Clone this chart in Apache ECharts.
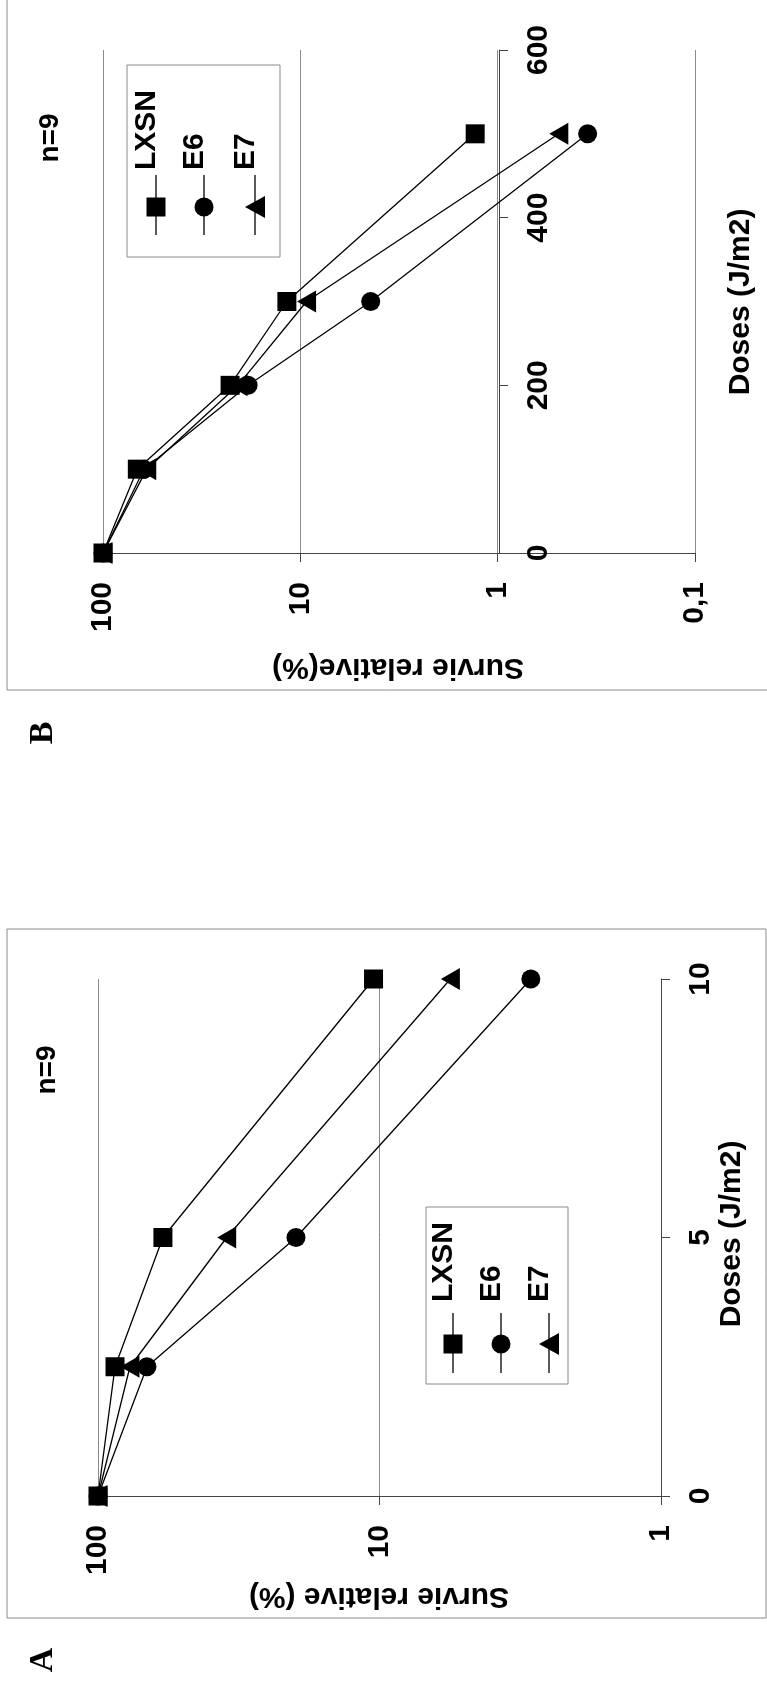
<!DOCTYPE html>
<html><head><meta charset="utf-8">
<script src="https://cdn.jsdelivr.net/npm/echarts@6/dist/echarts.min.js"></script>
<style>html,body{margin:0;padding:0;background:#fff}#c{width:767px;height:1686px}</style>
</head><body><div id="c"></div>
<script>
// ---------- data ----------
const seriesNames = ['LXSN', 'E6', 'E7'];
// Chart B (doses 0..600 J/m2)
const dosesB = [0, 100, 200, 300, 500];
const lxsnB = [100, 67, 22.7, 11.7, 1.3];
const e6B   = [100, 62, 18.4, 4.4, 0.35];
const e7B   = [100, 60, 20.7, 9.3, 0.49];
const doseTicksB = [0, 200, 400, 600];
// Chart A (doses 0..10 J/m2)
const dosesA = [0, 2.5, 5, 10];
const lxsnA = [100, 87, 58.8, 10.5];
const e6A   = [100, 67, 19.8, 2.9];
const e7A   = [100, 77, 34.9, 5.6];
const doseTicksA = [0, 5, 10];
// survival tick labels
const survTickValues = [100, 10, 1, 0.1];
const survTickLabels = ['100', '10', '1', '0,1'];

// ---------- styling ----------
const FONT = '"Liberation Sans", Arial, Helvetica, sans-serif';
const SERIF = '"Liberation Serif", "Times New Roman", serif';
const AXIS = '#444', GRID = '#8a8a8a', FRAME = '#8a8a8a';
const R90 = Math.PI / 2;

function survFmt(v) {
  const r = +(+v).toPrecision(3);
  const i = survTickValues.findIndex(t => Math.abs(t - r) < 1e-9);
  return i >= 0 ? survTickLabels[i] : String(r).replace('.', ',');
}
function logAxis(gi, min) {
  return {
    gridIndex: gi, type: 'log', logBase: 10, min: min, max: 100, inverse: true, position: 'bottom',
    axisLine: { show: true, onZero: false, lineStyle: { color: AXIS, width: 1 } },
    axisTick: { show: true, inside: false, length: 9, lineStyle: { color: AXIS, width: 1 } },
    minorTick: { show: false },
    axisLabel: { rotate: 90, margin: 29, fontSize: 30, fontWeight: 'bold', fontFamily: FONT, color: '#000',
      padding: [0, 0, 12, 0], formatter: survFmt },
    splitLine: { show: true, lineStyle: { color: GRID, width: 1 } }
  };
}
function doseAxis(gi, max, interval, offset) {
  return {
    gridIndex: gi, type: 'value', min: 0, max: max, interval: interval, position: 'right', offset: offset,
    axisLine: { show: true, onZero: false, lineStyle: { color: AXIS, width: 1 } },
    axisTick: { show: true, inside: false, length: 9, lineStyle: { color: AXIS, width: 1 } },
    axisLabel: { rotate: 90, margin: 25, fontSize: 30, fontWeight: 'bold', fontFamily: FONT, color: '#000' },
    splitLine: { show: false }
  };
}
const symbolOf = {
  LXSN: { symbol: 'rect', symbolSize: 19, symbolRotate: 0 },
  E6:   { symbol: 'circle', symbolSize: 19, symbolRotate: 0 },
  E7:   { symbol: 'triangle', symbolSize: [22, 19], symbolRotate: 90 }
};
const zOf = { LXSN: 4, E6: 3, E7: 2 };
function lineSeries(gi, name, doses, vals) {
  const s = symbolOf[name];
  return {
    type: 'line', name: name, xAxisIndex: gi, yAxisIndex: gi,
    data: doses.map((d, i) => [vals[i], d]),
    symbol: s.symbol, symbolSize: s.symbolSize, symbolRotate: s.symbolRotate,
    showAllSymbol: true, clip: false, z: zOf[name],
    itemStyle: { color: '#000', borderWidth: 0 },
    lineStyle: { color: '#000', width: 1.3 },
    emphasis: { disabled: true }, animation: false
  };
}

// ---------- graphic helpers (frames, legends, titles) ----------
function rotText(x, y, text, rot, size, align, family) {
  return { type: 'text', x: x, y: y, rotation: rot, silent: true, z: 10,
    style: { text: text, fill: '#000', fontSize: size, fontWeight: 'bold', fontFamily: family || FONT,
      align: align || 'center', verticalAlign: 'middle', textAlign: align || 'center', textVerticalAlign: 'middle' } };
}
function legend(box, xs, markerY, lineY1, lineY2, textY) {
  const els = [{ type: 'rect', shape: box, silent: true, z: 9,
    style: { fill: '#fff', stroke: FRAME, lineWidth: 1 } }];
  seriesNames.forEach((n, i) => {
    const x = xs[i];
    els.push({ type: 'line', silent: true, z: 10, shape: { x1: x, y1: lineY1, x2: x, y2: lineY2 },
      style: { stroke: '#000', lineWidth: 1.3 } });
    if (n === 'LXSN') els.push({ type: 'rect', silent: true, z: 11, shape: { x: x - 9.5, y: markerY - 9.5, width: 19, height: 19 }, style: { fill: '#000' } });
    if (n === 'E6') els.push({ type: 'circle', silent: true, z: 11, shape: { cx: x, cy: markerY, r: 9.5 }, style: { fill: '#000' } });
    if (n === 'E7') els.push({ type: 'polygon', silent: true, z: 11, shape: { points: [[x - 10, markerY], [x + 10, markerY - 11], [x + 10, markerY + 11]] }, style: { fill: '#000' } });
    els.push(rotText(x - 9, textY, n, R90, 30, 'left'));
  });
  return els;
}

const graphics = [
  // frames
  { type: 'rect', silent: true, z: 0, shape: { x: 7, y: -5, width: 770, height: 695 }, style: { fill: 'none', stroke: FRAME, lineWidth: 1 } },
  { type: 'rect', silent: true, z: 0, shape: { x: 7, y: 929, width: 759, height: 689 }, style: { fill: 'none', stroke: FRAME, lineWidth: 1 } },
  // panel letters
  rotText(43, 733, 'B', R90, 34, 'center', SERIF),
  rotText(43, 1660, 'A', R90, 34, 'center', SERIF),
  // n=9
  rotText(50, 138, 'n=9', R90, 28),
  rotText(47, 1070, 'n=9', R90, 28),
  // axis titles
  rotText(741, 302, 'Doses (J/m2)', R90, 30),
  rotText(732, 1234, 'Doses (J/m2)', R90, 30),
  rotText(398, 667, 'Survie relative(%)', Math.PI, 30),
  rotText(379, 1596, 'Survie relative (%)', Math.PI, 30)
].concat(
  legend({ x: 127, y: 65, width: 153, height: 192 }, [156, 204, 255], 207, 175, 235, 170),
  legend({ x: 426, y: 1207, width: 142, height: 177 }, [453, 501, 549], 1344, 1313, 1373, 1302)
);

const chart = echarts.init(document.getElementById('c'), null, { renderer: 'canvas' });
chart.setOption({
  animation: false,
  backgroundColor: '#fff',
  grid: [
    { left: 103, top: 50, width: 592, height: 503, containLabel: false, outerBoundsMode: 'none' },
    { left: 98, top: 979, width: 563, height: 517, containLabel: false, outerBoundsMode: 'none' }
  ],
  xAxis: [logAxis(0, 0.1), logAxis(1, 1)],
  yAxis: [
    doseAxis(0, doseTicksB[doseTicksB.length - 1], doseTicksB[1] - doseTicksB[0], -196),
    doseAxis(1, doseTicksA[doseTicksA.length - 1], doseTicksA[1] - doseTicksA[0], 0)
  ],
  series: [
    lineSeries(0, 'E7', dosesB, e7B),
    lineSeries(0, 'E6', dosesB, e6B),
    lineSeries(0, 'LXSN', dosesB, lxsnB),
    lineSeries(1, 'E7', dosesA, e7A),
    lineSeries(1, 'E6', dosesA, e6A),
    lineSeries(1, 'LXSN', dosesA, lxsnA)
  ],
  graphic: graphics
});
</script></body></html>
